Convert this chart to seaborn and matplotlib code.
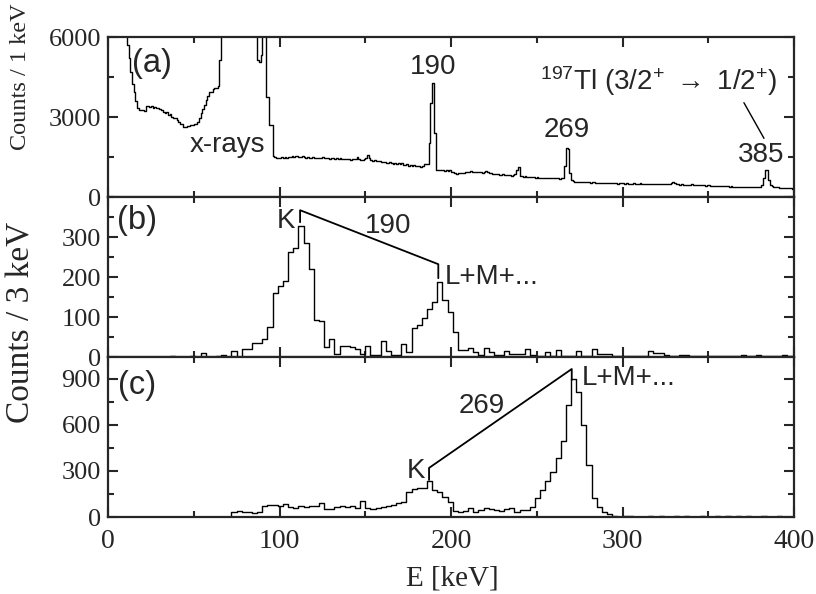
import numpy as np
import pandas as pd
import matplotlib
matplotlib.use("Agg")
import matplotlib.pyplot as plt
from matplotlib.ticker import MultipleLocator
import seaborn as sns

# ---------------- data ----------------
# panel (a): counts per 1 keV, bins starting at 0,1,...,399 keV (values >6000 are off scale)
a_counts = [
    9000, 9000, 9000, 9000, 9000, 9000, 9000, 9000, 9000, 9000,
    6300, 5700, 5200, 4700, 4250, 3950, 3600, 3350, 3260, 3250,
    3280, 3230, 3400, 3420, 3380, 3400, 3350, 3380, 3330, 3340,
    3300, 3250, 3180, 3150, 3200, 3080, 3100, 3000, 2950, 2980,
    2900, 2820, 2720, 2740, 2640, 2630, 2660, 2680, 2700, 2690,
    2720, 2740, 2800, 2950, 3150, 3300, 3450, 3650, 3800, 3930,
    3950, 4050, 4080, 4100, 4150, 5150, 20000, 20000, 20000, 20000,
    20000, 20000, 20000, 20000, 20000, 20000, 20000, 20000, 20000, 20000,
    20000, 20000, 20000, 20000, 20000, 20000, 20000, 5140, 5060, 5320,
    20000, 20000, 3760, 3760, 2700, 2700, 1520, 1490, 1470, 1480,
    1460, 1490, 1480, 1500, 1470, 1490, 1510, 1530, 1500, 1520,
    1540, 1510, 1500, 1520, 1490, 1470, 1500, 1480, 1460, 1490,
    1470, 1450, 1480, 1460, 1470, 1490, 1450, 1470, 1460, 1440,
    1470, 1450, 1430, 1460, 1440, 1450, 1420, 1440, 1410, 1430,
    1420, 1400, 1420, 1410, 1430, 1500, 1420, 1400, 1390, 1410,
    1480, 1570, 1450, 1380, 1360, 1390, 1350, 1340, 1360, 1330,
    1300, 1320, 1280, 1270, 1300, 1260, 1250, 1280, 1240, 1260,
    1230, 1270, 1210, 1200, 1220, 1180, 1190, 1170, 1200, 1160,
    1150, 1170, 1140, 1150, 1220, 1240, 1250, 2010, 3520, 4260,
    2400, 1010, 1020, 1010, 1000, 1010, 990, 1000, 980, 1000,
    950, 920, 900, 880, 900, 890, 910, 900, 930, 940,
    950, 960, 950, 940, 930, 950, 920, 930, 910, 930,
    960, 940, 900, 890, 880, 870, 860, 850, 840, 830,
    850, 830, 820, 830, 810, 800, 820, 850, 1000, 1140,
    800, 770, 760, 770, 750, 760, 740, 750, 740, 730,
    745, 730, 720, 730, 710, 720, 715, 700, 710, 720,
    700, 710, 700, 690, 710, 720, 1150, 1825, 1800, 900,
    620, 600, 580, 570, 580, 560, 570, 560, 550, 560,
    550, 540, 550, 560, 540, 530, 540, 530, 520, 530,
    520, 530, 520, 510, 520, 510, 520, 500, 510, 520,
    510, 500, 510, 500, 490, 500, 510, 500, 490, 500,
    510, 500, 490, 500, 490, 480, 490, 480, 500, 490,
    480, 490, 480, 470, 480, 470, 480, 500, 540, 570,
    520, 480, 470, 460, 470, 460, 450, 460, 450, 460,
    470, 450, 440, 450, 440, 450, 460, 440, 430, 440,
    450, 430, 420, 430, 420, 410, 420, 410, 420, 400,
    410, 400, 390, 400, 390, 380, 390, 380, 390, 380,
    370, 380, 370, 380, 370, 360, 370, 360, 370, 360,
    380, 450, 700, 1010, 1000, 650, 450, 400, 380, 370,
    360, 350, 350, 340, 330, 330, 320, 330, 320, 310,
]
a_binwidth = 1

# panel (b): counts per 3 keV (gate on 190 keV), bins starting 0,3,...,399 keV
b_counts = [
    0, 0, 0, 0, 0, 0, 0, 0, 0, 0,
    0, 0, 3, 0, 0, 0, 2, 0, 9, 0,
    0, 3, 4, 0, 15, 0, 20, 20, 36, 36,
    45, 76, 159, 178, 190, 262, 272, 327, 284, 220,
    92, 91, 26, 45, 7, 28, 28, 25, 20, 7,
    28, 5, 5, 40, 15, 5, 5, 32, 13, 72,
    80, 97, 120, 137, 187, 142, 112, 62, 17, 17,
    22, 13, 5, 22, 13, 5, 5, 15, 7, 7,
    7, 20, 5, 3, 3, 13, 3, 17, 3, 3,
    3, 15, 3, 3, 20, 8, 8, 8, 3, 3,
    2, 2, 2, 2, 2, 15, 10, 10, 5, 3,
    3, 5, 5, 3, 3, 2, 2, 3, 3, 2,
    2, 2, 2, 4, 2, 2, 4, 2, 2, 2,
    2, 6, 2, 2,
]
# panel (c): counts per 3 keV (gate on 269 keV)
c_counts = [
    0, 0, 0, 0, 0, 0, 0, 0, 0, 0,
    0, 0, 0, 0, 0, 0, 0, 0, 0, 0,
    0, 0, 3, 0, 34, 39, 30, 30, 24, 30,
    73, 78, 78, 73, 82, 67, 56, 73, 67, 73,
    73, 88, 52, 52, 67, 72, 67, 72, 60, 104,
    60, 52, 60, 67, 73, 78, 88, 99, 160, 181,
    190, 190, 235, 175, 160, 131, 95, 39, 34, 39,
    60, 34, 45, 56, 52, 45, 39, 52, 56, 34,
    45, 45, 67, 125, 175, 233, 295, 382, 495, 730,
    895, 810, 598, 338, 122, 67, 34, 17, 5, 3,
    8, 8, 3, 3, 3, 5, 3, 5, 3, 3,
    5, 3, 5, 3, 3, 6, 3, 3, 5, 3,
    6, 3, 8, 3, 5, 3, 3, 5, 3, 3,
    5, 3, 3, 3,
]
bc_binwidth = 3

x_ticks = [0, 100, 200, 300, 400]
a_yticks = [0, 3000, 6000]
b_yticks = [0, 100, 200, 300]
c_yticks = [0, 300, 600, 900]

assert len(a_counts) == 400 and len(b_counts) == 134 and len(c_counts) == 134

# ---------------- style ----------------
sns.set_theme(style="ticks")
plt.rcParams['font.family'] = ['Liberation Serif', 'DejaVu Serif']
plt.rcParams['mathtext.fontset'] = 'custom'
plt.rcParams['mathtext.rm'] = 'Liberation Sans'
plt.rcParams['mathtext.it'] = 'Liberation Sans:italic'
plt.rcParams['mathtext.bf'] = 'Liberation Sans:bold'
plt.rcParams['axes.linewidth'] = 1.6
SANS = ['Liberation Sans', 'DejaVu Sans']

W, H = 816, 594
fig = plt.figure(figsize=(W / 100, H / 100), dpi=100)

def frame(top_px, bot_px):
    return [108 / W, 1 - bot_px / H, (794 - 108) / W, (bot_px - top_px) / H]

axA = fig.add_axes(frame(37, 197))
axB = fig.add_axes(frame(197, 357))
axC = fig.add_axes(frame(357, 517))

def spectrum(ax, counts, width):
    counts = np.asarray(counts, dtype=float)
    n = len(counts)
    centers = (np.arange(n) + 0.5) * width
    df = pd.DataFrame({"E": centers, "N": counts})
    sns.histplot(data=df, x="E", weights="N", binwidth=width, binrange=(0, n * width),
                 element="step", fill=False, color="black", linewidth=1.0, ax=ax)

spectrum(axA, a_counts, a_binwidth)
spectrum(axB, b_counts, bc_binwidth)
spectrum(axC, c_counts, bc_binwidth)

for ax, ylim, yt, ymin in [(axA, 6000, a_yticks, 1500),
                          (axB, 400, b_yticks, 50),
                          (axC, 1040, c_yticks, 150)]:
    ax.set_xlim(0, 400)
    ax.set_ylim(0, ylim)
    ax.set_xticks(x_ticks)
    ax.xaxis.set_minor_locator(MultipleLocator(50))
    ax.set_yticks(yt)
    ax.yaxis.set_minor_locator(MultipleLocator(ymin))
    ax.tick_params(which='both', direction='in', top=True, right=True, width=1.5)
    ax.tick_params(which='major', length=7)
    ax.tick_params(which='minor', length=4)
    ax.tick_params(axis='y', labelsize=19, pad=5)
    ax.tick_params(axis='x', labelsize=20, pad=9)
    ax.set_xlabel("")
    ax.set_ylabel("")
    for s in ax.spines.values():
        s.set_linewidth(1.6)

axA.tick_params(axis='x', labelbottom=False)
axB.tick_params(axis='x', labelbottom=False)

# ---------------- annotations ----------------
# panel (a)
axA.text(13.8, 4990, "(a)", ha='left', va='center', fontsize=23.5, family=SANS)
axA.text(47.8, 1950, "x-rays", ha='left', va='center', fontsize=20, family=SANS)
axA.text(189.7, 4890, "190", ha='center', va='center', fontsize=20, family=SANS)
axA.text(267.5, 2510, "269", ha='center', va='center', fontsize=20, family=SANS)
axA.text(380.6, 1575, "385", ha='center', va='center', fontsize=20, family=SANS)
axA.text(251.9, 4012, r"$^{197}$Tl (3/2$^{+}$ $\mathbf{\rightarrow}$ 1/2$^{+}$)",
         ha='left', va='baseline', fontsize=20, family=SANS)
axA.plot([370.8, 382.5], [3537, 2200], color='black', lw=1.0)

# panel (b)
axB.text(5.2, 340, "(b)", ha='left', va='center', fontsize=23.5, family=SANS)
axB.text(103.8, 340, "K", ha='center', va='center', fontsize=20, family=SANS)
axB.plot([112.0, 112.0, 192.6, 192.6], [337, 367, 232, 197], color='black', lw=1.3)
axB.text(163.3, 327, "190", ha='center', va='center', fontsize=20, family=SANS)
axB.text(196.5, 200, "L+M+...", ha='left', va='center', fontsize=20, family=SANS)

# panel (c)
axC.text(5.8, 855, "(c)", ha='left', va='center', fontsize=23.5, family=SANS)
axC.text(179.5, 299, "K", ha='center', va='center', fontsize=20, family=SANS)
axC.plot([187.2, 187.2, 270.4, 270.4], [241, 319, 962, 891], color='black', lw=1.3)
axC.text(217.8, 722, "269", ha='center', va='center', fontsize=20, family=SANS)
axC.text(276.2, 904, "L+M+...", ha='left', va='center', fontsize=20, family=SANS)

# axis labels
fig.text(21 / W, 1 - 77 / H, "Counts / 1 keV", rotation=90, ha='center', va='center',
         fontsize=17.5)
fig.text(21 / W, 1 - 322 / H, "Counts / 3 keV", rotation=90, ha='center', va='center',
         fontsize=24)
fig.text(452 / W, 1 - 578 / H, "E [keV]", ha='center', va='center', fontsize=21)

fig.savefig("out.png", dpi=100)
